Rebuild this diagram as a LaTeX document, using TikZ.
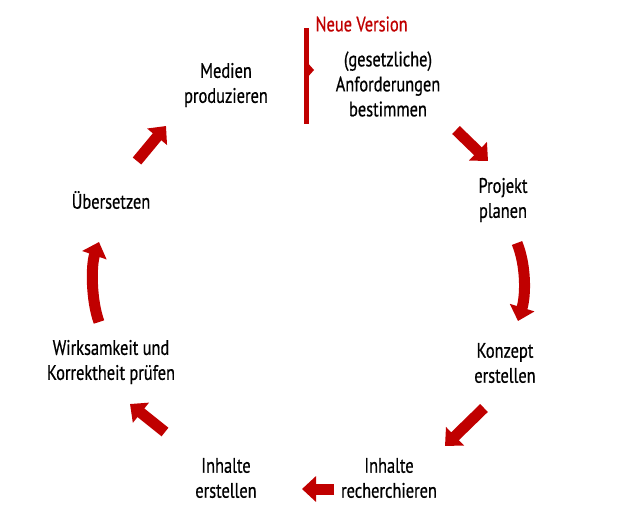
\documentclass[tikz,border=0pt]{standalone}
\usepackage{fontspec}
\setmainfont{PT Sans}[FakeStretch=0.78, FakeBold=0.6]
\usepackage{tikz}
\usetikzlibrary{arrows.meta,calc}
\definecolor{cycred}{HTML}{C00000}
\tikzset{
  step text/.style={black, align=center, font=\fontsize{21}{25}\selectfont},
  version/.style={cycred, font=\fontsize{21}{25}\selectfont, anchor=west},
  cycarrow/.style={draw=cycred, line width=11pt, -{Triangle[width=25pt, length=14pt]}},
  bar/.style={draw=cycred, line width=5pt}
}
\begin{document}
\begin{tikzpicture}[x=1pt, y=-1pt]
  \useasboundingbox (0,0) rectangle (618,520);
  % steps of the cycle
  \node[step text] (req) at (388,84) {(gesetzliche)\\Anforderungen\\bestimmen};
  \node[step text] (proj) at (503,200) {Projekt\\planen};
  \node[step text] (konz) at (505,363) {Konzept\\erstellen};
  \node[step text] (rech) at (389,478) {Inhalte\\recherchieren};
  \node[step text] (erst) at (226,478) {Inhalte\\erstellen};
  \node[step text] (pruef) at (111,362) {Wirksamkeit und\\Korrektheit prüfen};
  \node[step text] (ueber) at (111,200) {Übersetzen};
  \node[step text] (med) at (226,85) {Medien\\produzieren};
  \node[version] (neu) at (312,24) {Neue Version};
  % arrow ends
  \coordinate (a1s) at (456,130);
  \coordinate (a1e) at (488,161);
  \coordinate (a2s) at (517,243);
  \coordinate (a2e) at (518,321);
  \coordinate (a3s) at (484,408);
  \coordinate (a3e) at (445,446);
  \coordinate (a4s) at (334,489);
  \coordinate (a4e) at (302,489);
  \coordinate (a5s) at (165,432);
  \coordinate (a5e) at (130,404);
  \coordinate (a6s) at (99,322);
  \coordinate (a6e) at (99,242);
  \coordinate (a7s) at (137,161);
  \coordinate (a7e) at (166,126);
  \coordinate (bt) at (306,28);
  \coordinate (bb) at (306,124);
  \coordinate (bm) at (306,70);
  % arrows
  \draw[cycarrow] (a1s) -- (a1e);
  \draw[cycarrow] (a2s) .. controls (526,265) and (526,295) .. (a2e);
  \draw[cycarrow] (a3s) -- (a3e);
  \draw[cycarrow] (a4s) -- (a4e);
  \draw[cycarrow] (a5s) -- (a5e);
  \draw[cycarrow] (a6s) .. controls (91,300) and (91,265) .. (a6e);
  \draw[cycarrow] (a7s) -- (a7e);
  % new version marker
  \draw[bar] (bt) -- (bb);
  \fill[cycred] ($(bm)+(0,-9)$) -- ($(bm)+(8,0)$) -- ($(bm)+(0,9)$) -- cycle;
\end{tikzpicture}
\end{document}
